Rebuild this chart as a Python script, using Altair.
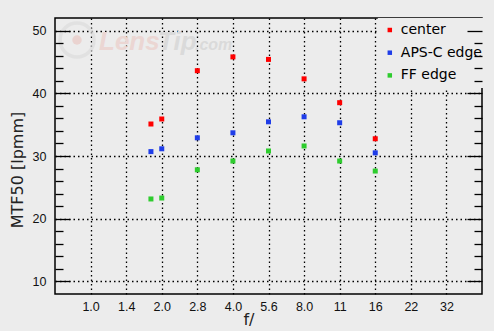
import json
import altair as alt
import numpy as np
import pandas as pd

# ---- data ----
f_numbers = [1.8, 2.0, 2.8, 4.0, 5.6, 8.0, 11, 16]
center = [35.1, 35.9, 43.6, 45.8, 45.4, 42.3, 38.5, 32.75]
aps_c_edge = [30.7, 31.15, 32.9, 33.7, 35.45, 36.25, 35.3, 30.5]
ff_edge = [23.15, 23.3, 27.8, 29.2, 30.8, 31.6, 29.2, 27.6]
series_names = ["center", "APS-C edge", "FF edge"]
series_colors = ["#ff0000", "#1f3de8", "#2ecc2e"]
stop_labels = ["1.0", "1.4", "2.0", "2.8", "4.0", "5.6", "8.0", "11", "16", "22", "32"]
y_major = [10, 20, 30, 40, 50]
y_minor = [v for v in range(12, 50, 2) if v % 10]


def stop_pos(f):
    lbl = f"{f:.1f}" if f < 10 else f"{int(f)}"
    if lbl in stop_labels:
        return float(stop_labels.index(lbl))
    return float(2 * np.log2(f))


rows = []
for name, vals in zip(series_names, [center, aps_c_edge, ff_edge]):
    for f, v in zip(f_numbers, vals):
        rows.append({"stop": stop_pos(f), "f": f, "series": name, "value": v})
df = pd.DataFrame(rows)

xs = alt.Scale(domain=[-1, 11], nice=False, zero=False)
ys = alt.Scale(domain=[8, 52], nice=False, zero=False)
label_expr = json.dumps(stop_labels) + "[datum.value]"
TXT = "#111111"

base = alt.Chart(df)

common_x = dict(orient="bottom", values=list(range(11)), labelExpr=label_expr,
                ticks=False, domain=False, labelFont="Liberation Sans", labelFontSize=12.5,
                labelFlush=False, labelOverlap=False, titleFont="DejaVu Sans",
                titleFontSize=16, titleFontWeight="normal", titleBaseline="middle",
                titleAlign="center")
common_y = dict(orient="left", values=y_major, ticks=False, domain=False,
                labelFont="Liberation Sans", labelFontSize=12.5, labelFlush=False,
                labelOverlap=False, titleFont="DejaVu Sans", titleFontSize=16,
                titleFontWeight="normal", titleAngle=270, titleBaseline="middle",
                titleAlign="center")

# grid
grid = base.mark_point(opacity=0).encode(
    x=alt.X("stop:Q", scale=xs, title=None, axis=alt.Axis(
        orient="bottom", values=list(range(11)), grid=True, labels=False, ticks=False,
        domain=False, gridColor="#000000", gridDash=[1.5, 3], gridWidth=1.3, gridOpacity=1)),
    y=alt.Y("value:Q", scale=ys, title=None, axis=alt.Axis(
        orient="left", values=y_major, grid=True, labels=False, ticks=False,
        domain=False, gridColor="#000000", gridDash=[1.5, 3], gridWidth=1.3, gridOpacity=1)),
)

# labels and titles
labels = base.mark_point(opacity=0).encode(
    x=alt.X("stop:Q", scale=xs, title="f/", axis=alt.Axis(
        grid=False, labelColor=TXT, labelPadding=6.5, titleColor="#222222",
        titleX=193.5, titleY=25, **common_x)),
    y=alt.Y("value:Q", scale=ys, title="MTF50 [lpmm]", axis=alt.Axis(
        grid=False, labelColor=TXT, labelPadding=9, titleColor="#222222",
        titleX=-37.5, titleY=151.5, **common_y)),
)


def tick_layer(orient, vals, size):
    return base.mark_point(opacity=0).encode(
        y=alt.Y("value:Q", scale=ys, title=None, axis=alt.Axis(
            orient=orient, values=vals, offset=-size, tickSize=size, labels=False,
            domain=False, grid=False, tickColor="#000000", tickWidth=1.3, zindex=2)),
    )


ticks_lm = tick_layer("left", y_major, 15)
ticks_ln = tick_layer("left", y_minor, 8)
ticks_rm = tick_layer("right", y_major, 15)
ticks_rn = tick_layer("right", y_minor, 8)

# watermark
wm = pd.DataFrame({"t": [""]})
wbase = alt.Chart(wm)
ring = wbase.mark_point(shape="circle", filled=False, stroke="#dddddd", strokeWidth=3.5,
                        size=1150).encode(x=alt.value(22), y=alt.value(22))
dot = wbase.mark_point(shape="circle", filled=True, fill="#ead3d0", opacity=1,
                       size=90).encode(x=alt.value(22), y=alt.value(22))
lens = wbase.mark_text(text="Lens", font="Liberation Sans", fontSize=26, fontWeight="bold",
                       fontStyle="italic", color="#ebd6d3", align="left",
                       baseline="alphabetic").encode(x=alt.value(44), y=alt.value(32))
tip = wbase.mark_text(text="Tip", font="Liberation Sans", fontSize=26, fontWeight="bold",
                      fontStyle="italic", color="#dadada", align="left",
                      baseline="alphabetic").encode(x=alt.value(103), y=alt.value(32))
com = wbase.mark_text(text=".com", font="Liberation Sans", fontSize=16, fontWeight="bold",
                      fontStyle="italic", color="#dadada", align="left",
                      baseline="alphabetic").encode(x=alt.value(140), y=alt.value(32))

points = base.mark_square(size=25, opacity=1).encode(
    x=alt.X("stop:Q", scale=xs, axis=None),
    y=alt.Y("value:Q", scale=ys, axis=None),
    color=alt.Color("series:N", scale=alt.Scale(domain=series_names, range=series_colors),
                    legend=alt.Legend(title=None, orient="none", legendX=322.8, legendY=0,
                                      symbolType="square", symbolSize=20,
                                      symbolStrokeWidth=0, symbolOpacity=1,
                                      labelFont="DejaVu Sans", labelFontSize=14,
                                      labelColor="#000000", fillColor="#ececec",
                                      padding=5, rowPadding=8.7, labelOffset=4)),
)

chart = alt.layer(
    grid, labels, ring, dot, lens, tip, com, points,
    ticks_lm, ticks_ln, ticks_rm, ticks_rn,
).resolve_axis(x="independent", y="independent").properties(
    width=427, height=276,
    autosize=alt.AutoSizeParams(type="none"),
    padding={"left": 55, "top": 18, "right": 12, "bottom": 37},
    background="#ececec",
).configure_view(stroke="#000000", strokeWidth=1.5, fill="#ececec")

chart.save("out.html", embed_options={"renderer": "svg", "actions": False})
